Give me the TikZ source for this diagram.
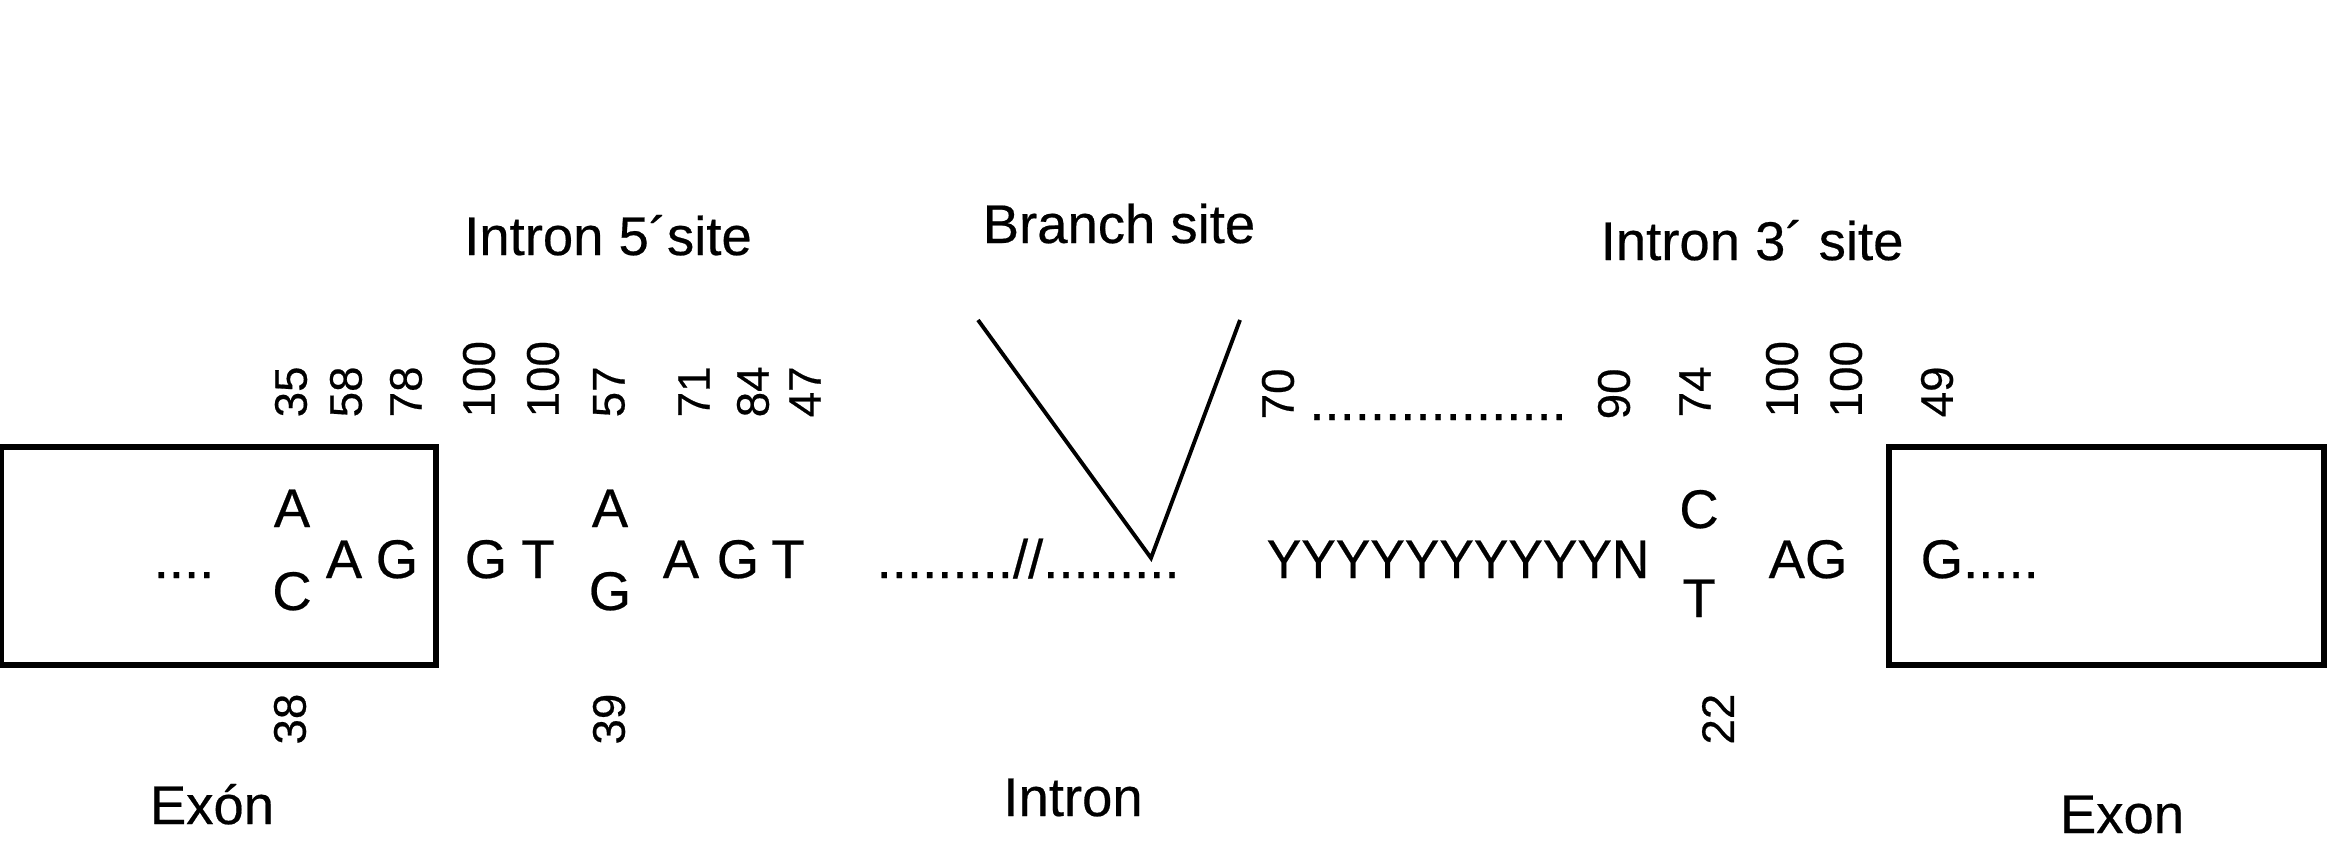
\documentclass[tikz,border=0pt]{standalone}
\usepackage{fontspec}
\setmainfont{Liberation Sans}[FakeBold=0.4]
\usetikzlibrary{positioning}
\begin{document}
\begin{tikzpicture}[
  nt/.style={font=\fontsize{15.5}{18}\selectfont,inner sep=0pt,anchor=base},
  num/.style={font=\fontsize{13}{15}\selectfont,inner sep=0pt,rotate=90,anchor=west},
  numb/.style={num,anchor=east},
  exonbox/.style={draw,line width=1.6pt,minimum width=4.35cm,minimum height=2.18cm,inner sep=0pt},
]
\useasboundingbox (0,0) rectangle (23.27,8.45);
% exons
\node[exonbox] (exl) at (2.185,2.89) {};
\node[exonbox] (exr) at (21.065,2.89) {};
% titles
\node[nt] (t5) at (6.08,5.90) {Intron 5´site};
\node[nt] (tb) at (11.19,6.02) {Branch site};
\node[nt,anchor=base west] (t3) at (16.00,5.85) {Intron 3´ site};
\node[nt] (lexl) at (2.12,0.21) {Exón};
\node[nt] (lint) at (10.73,0.29) {Intron};
\node[nt] (lexr) at (21.22,0.12) {Exon};
% 5' site
\node[nt] (dl) at (1.84,2.67) {....};
\node[nt] (a1) at (2.92,3.18) {A};
\node[nt] (c1) at (2.92,2.35) {C};
\node[nt] (a2) at (3.44,2.67) {A};
\node[nt] (g2) at (3.97,2.67) {G};
\node[nt] (g3) at (4.86,2.67) {G};
\node[nt] (t3b) at (5.38,2.67) {T};
\node[nt] (a4) at (6.10,3.18) {A};
\node[nt] (g4) at (6.10,2.35) {G};
\node[nt] (a5) at (6.81,2.67) {A};
\node[nt] (g5) at (7.38,2.67) {G};
\node[nt] (t5b) at (7.88,2.67) {T};
\node[num] (n35) at (2.91,4.27) {35};
\node[num] (n58) at (3.46,4.27) {58};
\node[num] (n78) at (4.06,4.27) {78};
\node[num] (n100a) at (4.79,4.27) {100};
\node[num] (n100b) at (5.43,4.27) {100};
\node[num] (n57) at (6.09,4.27) {57};
\node[num] (n71) at (6.94,4.27) {71};
\node[num] (n84) at (7.53,4.27) {84};
\node[num] (n47) at (8.05,4.27) {47};
\node[numb] (n38) at (2.90,1.52) {38};
\node[numb] (n39) at (6.09,1.52) {39};
% branch site
\node[nt] (ib) at (10.28,2.67) {.........//.........};
\coordinate (vl) at (9.78,5.25);
\coordinate (vb) at (11.51,2.87);
\coordinate (vr) at (12.40,5.25);
\draw[line width=1.1pt] (vl) -- (vb) -- (vr);
% 3' site
\node[num] (n70) at (12.78,4.25) {70};
\node[nt] (dr) at (14.38,4.25) {.................};
\node[num] (n90) at (16.14,4.25) {90};
\node[num] (n74) at (16.95,4.27) {74};
\node[num] (n100c) at (17.82,4.27) {100};
\node[num] (n100d) at (18.46,4.27) {100};
\node[num] (n49) at (19.37,4.27) {49};
\node[nt,xscale=0.95] (py) at (14.58,2.67) {YYYYYYYYYYN};
\node[nt] (c6) at (16.99,3.17) {C};
\node[nt] (t6) at (16.99,2.28) {T};
\node[nt] (ag) at (18.08,2.67) {AG};
\node[nt,anchor=base west] (gr) at (19.20,2.67) {G.....};
\node[numb] (n22) at (17.18,1.52) {22};
\end{tikzpicture}
\end{document}
